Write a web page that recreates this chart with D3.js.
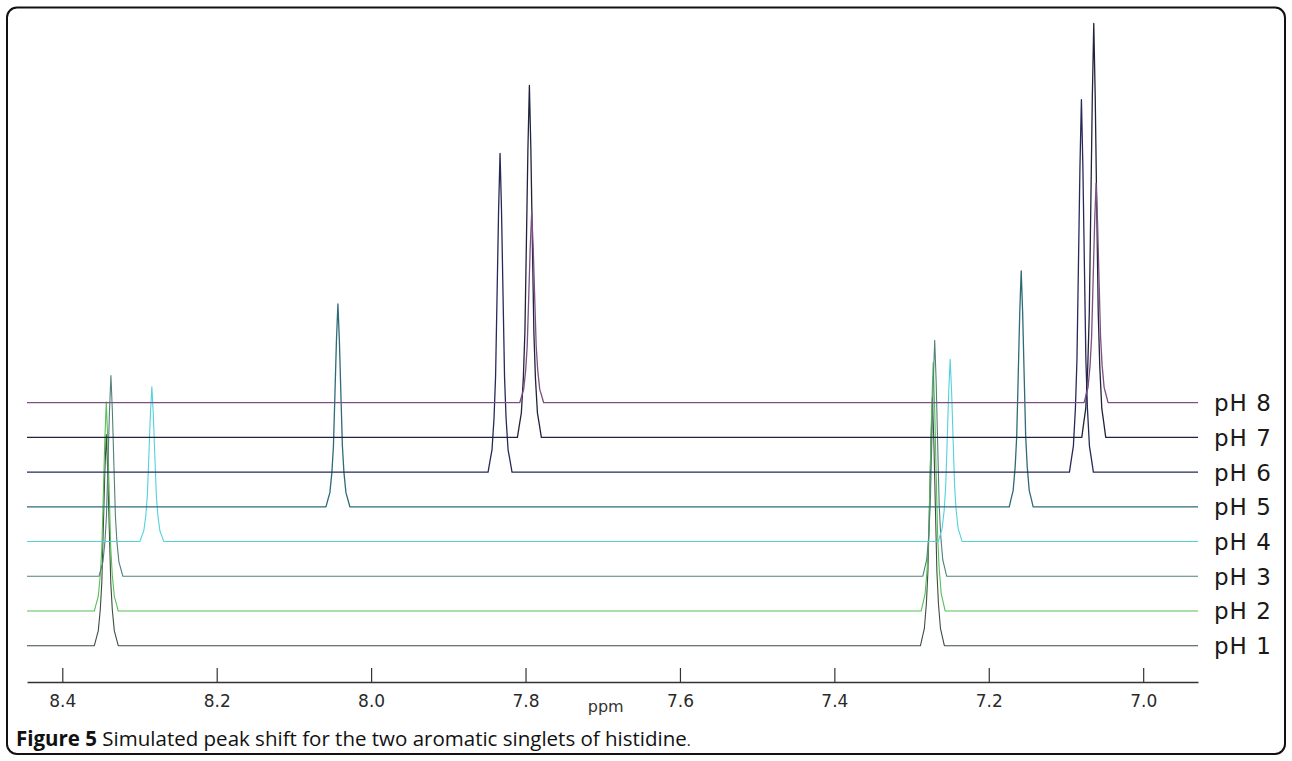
<!DOCTYPE html>
<html>
<head>
<meta charset="utf-8">
<script src="https://cdn.jsdelivr.net/npm/d3@7"></script>
<style>
  body { margin: 0; background: #fff; }
  svg { display: block; }
</style>
</head>
<body>
<div id="chart"></div>
<script>
// spectra, bottom (pH 1) to top (pH 8)
const phLabels = ['pH 1', 'pH 2', 'pH 3', 'pH 4', 'pH 5', 'pH 6', 'pH 7', 'pH 8'];
const phColors = ['#3e4c41', '#55c055', '#52817a', '#52d2dc', '#2e6b77', '#262a58', '#20233c', '#7b5082'];

// first aromatic singlet (C2-H)
const peakAPpm = [8.343, 8.343, 8.337, 8.284, 8.043, 7.833, 7.795, 7.792];
const peakAHeight = [51, 50.5, 48.5, 37.4, 49, 77, 85, 46];
// second aromatic singlet (C4-H)
const peakBPpm = [7.273, 7.272, 7.270, 7.250, 7.158, 7.080, 7.064, 7.061];
const peakBHeight = [60, 60, 57, 44, 57, 90, 100, 53];

const shapeOffset = [-0.0155, -0.0130, -0.0104, -0.0078, -0.0058, -0.0039, -0.0019, 0,
                      0.0019, 0.0039, 0.0058, 0.0078, 0.0104, 0.0130, 0.0155];
const shapeValue = [0, 0.035, 0.07, 0.17, 0.30, 0.55, 0.82, 1,
                    0.82, 0.55, 0.30, 0.17, 0.07, 0.035, 0];

const axisTicks = [8.4, 8.2, 8.0, 7.8, 7.6, 7.4, 7.2, 7.0];
const ppmRange = [8.4457, 6.929];

const width = 1292, height = 761;
const svg = d3.select('#chart').append('svg').attr('width', width).attr('height', height);

svg.append('rect')
  .attr('x', 7).attr('y', 7.5).attr('width', 1278).attr('height', 746.5)
  .attr('rx', 10).attr('fill', 'none').attr('stroke', '#111').attr('stroke-width', 2);

const x = d3.scaleLinear().domain(ppmRange).range([27, 1198]);
const track = d3.scalePoint().domain(phLabels).range([645.7, 402.7]);
const amp = d3.scaleLinear().domain([0, 100]).range([0, 414]);

function spectrum(i) {
  const pts = [[ppmRange[0], 0], [ppmRange[1], 0]];
  [[peakAPpm[i], peakAHeight[i]], [peakBPpm[i], peakBHeight[i]]].forEach(([c, h]) => {
    shapeOffset.forEach((o, k) => pts.push([c + o, h * shapeValue[k]]));
  });
  return pts.sort((a, b) => b[0] - a[0]);
}

const spectra = svg.append('g');
phLabels.forEach((lab, i) => {
  const base = track(lab);
  const line = d3.line().x(d => x(d[0])).y(d => base - amp(d[1]));
  spectra.append('path')
    .attr('d', line(spectrum(i)))
    .attr('fill', 'none')
    .attr('stroke', phColors[i])
    .attr('stroke-width', i >= 4 ? 1.3 : 1.1)
    .attr('stroke-linejoin', 'round');
  svg.append('text')
    .attr('x', 1214).attr('y', base + 8.5)
    .attr('font-family', 'DejaVu Sans').attr('font-size', 23)
    .attr('letter-spacing', 1)
    .attr('fill', '#1a1a1a')
    .text(lab);
});

const axis = svg.append('g').attr('transform', 'translate(0,682)')
  .call(d3.axisBottom(x).tickValues(axisTicks).tickFormat(d3.format('.1f'))
    .tickSizeInner(-14).tickSizeOuter(0).tickPadding(13.4));
axis.select('.domain').attr('stroke', '#333').attr('stroke-width', 1.3);
axis.selectAll('.tick line').attr('stroke', '#333').attr('stroke-width', 1.2);
axis.selectAll('.tick text')
  .attr('font-family', 'DejaVu Sans').attr('font-size', 17).attr('fill', '#2a2a2a');

svg.append('text')
  .attr('x', 605.7).attr('y', 712).attr('text-anchor', 'middle')
  .attr('font-family', 'DejaVu Sans').attr('font-size', 16).attr('fill', '#333')
  .text('ppm');

const cap = svg.append('text')
  .attr('x', 16).attr('y', 746)
  .attr('font-family', 'Open Sans').attr('font-size', 20.5).attr('fill', '#111');
cap.append('tspan').attr('font-weight', 'bold').text('Figure 5');
cap.append('tspan').text(' Simulated peak shift for the two aromatic singlets of histidine');
cap.append('tspan').attr('font-size', 15).text('.');
</script>
</body>
</html>
